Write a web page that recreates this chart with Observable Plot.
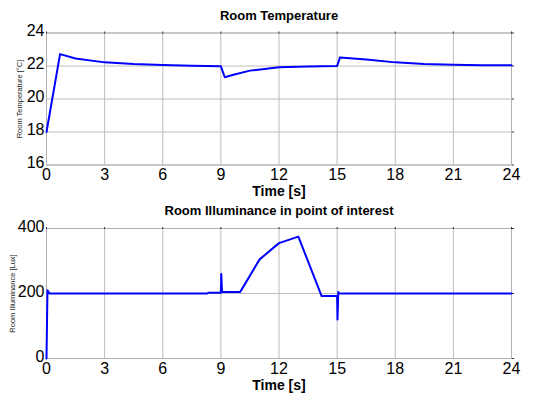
<!DOCTYPE html>
<html>
<head>
<meta charset="utf-8">
<script src="https://cdn.jsdelivr.net/npm/d3@7"></script>
<script src="https://cdn.jsdelivr.net/npm/@observablehq/plot@0.6"></script>
<style>
  body { margin: 0; background: #fff; }
  #chart svg { display: block; }
</style>
</head>
<body>
<div id="chart"></div>
<script>
// Shared time ticks
const timeTicks = [0, 3, 6, 9, 12, 15, 18, 21, 24];

// Room temperature
const tempTitle = "Room Temperature";
const tempYLabel = "Room Temperature [°C]";
const tempTicks = [16, 18, 20, 22, 24];
const tempT = [0, 0.7, 1.5, 3, 4.5, 6, 7.5, 9, 9.2, 9.6, 10.5, 12, 13.5, 15, 15.15, 16.5, 18, 19.5, 21, 22.5, 24];
const tempV = [18, 22.72, 22.45, 22.22, 22.12, 22.06, 22.02, 21.98, 21.32, 21.45, 21.72, 21.92, 21.97, 22.0, 22.52, 22.4, 22.22, 22.12, 22.07, 22.05, 22.04];

// Room illuminance
const illTitle = "Room Illuminance in point of interest";
const illYLabel = "Room Illuminance [Lux]";
const illTicks = [0, 200, 400];
const illT = [0, 0.05, 0.1, 0.15, 8.3, 8.35, 9.0, 9.02, 9.06, 9.1, 10.0, 11.0, 12.0, 13.0, 14.2, 15.0, 15.02, 15.06, 15.1, 24];
const illV = [0, 210, 205, 200, 200, 202, 202, 260, 205, 205, 205, 305, 355, 375, 192, 192, 120, 205, 200, 200];

const xLabel = "Time [s]";
const font = "'Liberation Sans', Arial, sans-serif";

function panel({T, V, yDomain, yTicks, title, yLabel, height, marginTop, marginBottom, titleY, xLabelDy, yLabelDx}) {
  const data = T.map((t, i) => ({t, v: V[i]}));
  return Plot.plot({
    width: 550,
    height,
    marginLeft: 46,
    marginRight: 39,
    marginTop,
    marginBottom,
    style: {fontFamily: font, background: "#fff", color: "#000"},
    x: {domain: [0, 24]},
    y: {domain: yDomain},
    marks: [
      Plot.gridX(timeTicks, {stroke: "#bdbdbd", strokeOpacity: 1}),
      Plot.gridY(yTicks, {stroke: "#bdbdbd", strokeOpacity: 1}),
      Plot.frame({stroke: "#b0b0b0"}),
      Plot.axisX(timeTicks, {anchor: "bottom", tickSize: 0, tickPadding: 4, fontSize: 16, label: null}),
      Plot.axisX(timeTicks, {anchor: "top", tickSize: 2, tickFormat: () => "", label: null, stroke: "#333"}),
      Plot.axisY(yTicks, {anchor: "left", tickSize: 0, tickPadding: 2, fontSize: 16, dy: -2, label: null}),
      Plot.axisY(yTicks, {anchor: "right", tickSize: 2, tickFormat: () => "", label: null, stroke: "#333"}),
      Plot.line(data, {x: "t", y: "v", stroke: "#0000ff", strokeWidth: 2}),
      Plot.text([title], {frameAnchor: "top", lineAnchor: "middle", dy: -(marginTop - titleY), fontWeight: "bold", fontSize: 13}),
      Plot.text([xLabel], {frameAnchor: "bottom", lineAnchor: "middle", dy: xLabelDy, fontWeight: "bold", fontSize: 14}),
      Plot.text([yLabel], {frameAnchor: "left", textAnchor: "middle", lineAnchor: "middle", rotate: -90, dx: yLabelDx, fontSize: 7.5, fill: "#222"})
    ]
  });
}

const root = document.getElementById("chart");
root.append(panel({T: tempT, V: tempV, yDomain: [16, 24], yTicks: tempTicks, title: tempTitle, yLabel: tempYLabel, height: 200, marginTop: 32.5, marginBottom: 35.5, titleY: 15, xLabelDy: 26.5, yLabelDx: -27}));
root.append(panel({T: illT, V: illV, yDomain: [0, 400], yTicks: illTicks, title: illTitle, yLabel: illYLabel, height: 198, marginTop: 28, marginBottom: 40, titleY: 10, xLabelDy: 27, yLabelDx: -33.5}));
</script>
</body>
</html>
